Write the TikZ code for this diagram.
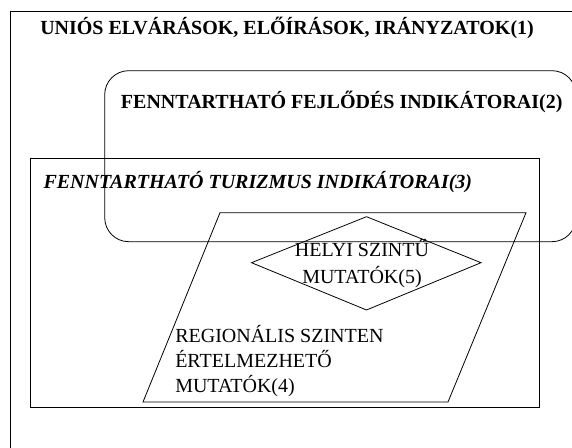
\documentclass[tikz,border=0pt]{standalone}
\usepackage{fontspec}
\setmainfont{Liberation Serif}
\usepackage{tikz}

\begin{document}
\begin{tikzpicture}[x=0.75pt,y=-0.75pt,
    frame/.style={draw,line width=0.6pt},
    label/.style={inner sep=0pt,anchor=base west,align=left},
    bigtext/.style={font=\fontsize{15}{18}\selectfont\bfseries},
    smalltext/.style={font=\fontsize{15}{18.75}\selectfont}]
  \clip (0,0) rectangle (572,448);
  \fill[white] (0,0) rectangle (572,448);
  % Outer frame (1), runs past the page
  \draw[frame] (10.3,11) rectangle (600,480);
  % Rounded box (2)
  \draw[frame,rounded corners=18pt] (104.7,70.7) rectangle (576,241.7);
  % Box (3)
  \draw[frame] (30.7,158.7) rectangle (539.7,407.7);
  % Parallelogram (4)
  \draw[frame] (220,212.7) -- (526,212.7) -- (448,402) -- (143,402) -- cycle;
  % Diamond (5)
  \draw[frame] (366.5,216.7) -- (481,262.7) -- (366.5,310) -- (251.5,262.7) -- cycle;
  % Labels
  \node[label,bigtext] (unios) at (40,34.7) {UNIÓS ELVÁRÁSOK, ELŐÍRÁSOK, IRÁNYZATOK(1)};
  \node[label,bigtext] (fejlodes) at (120.7,109) {FENNTARTHATÓ FEJLŐDÉS INDIKÁTORAI(2)};
  \node[label,font=\fontsize{15}{18}\selectfont\bfseries\itshape] (turizmus) at (43.3,189) {FENNTARTHATÓ TURIZMUS INDIKÁTORAI(3)};
  \node[label,smalltext] (regionalis) at (175,393) {REGIONÁLIS SZINTEN\\ÉRTELMEZHETŐ\\MUTATÓK(4)};
  \node[label,font=\fontsize{15}{20.25}\selectfont,align=center,anchor=base] (helyi) at (362,284) {HELYI SZINTŰ\\MUTATÓK(5)};
\end{tikzpicture}
\end{document}
